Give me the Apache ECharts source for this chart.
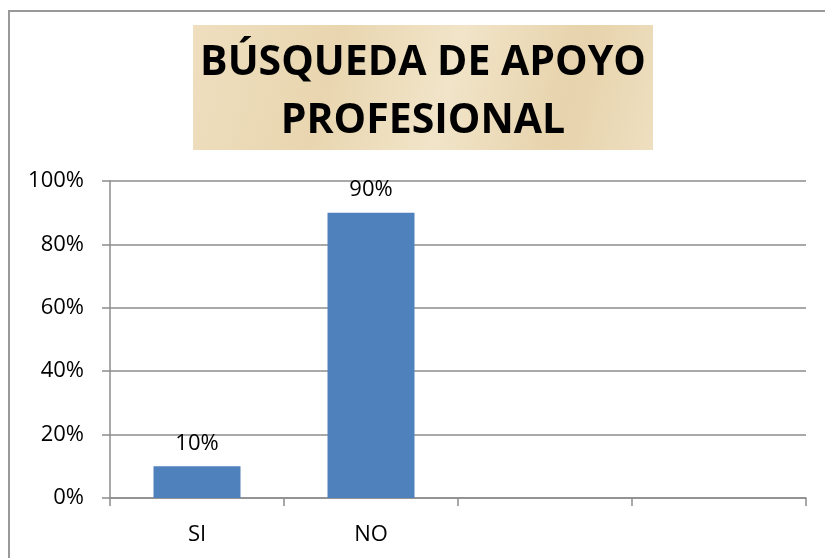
<!DOCTYPE html>
<html>
<head>
<meta charset="utf-8">
<script src="https://cdn.jsdelivr.net/npm/echarts@6/dist/echarts.min.js"></script>
<style>
  html, body { margin: 0; padding: 0; background: #fff; }
  #chart { width: 825px; height: 558px; }
</style>
</head>
<body>
<div id="chart"></div>
<script>
  // data
  var categories = ['SI', 'NO', '', ''];
  var values = [10, 90];
  var yTicks = [0, 20, 40, 60, 80, 100];
  var titleLines = ['BÚSQUEDA DE APOYO', 'PROFESIONAL'];

  var chartDom = document.getElementById('chart');
  var myChart = echarts.init(chartDom);
  var gray = '#8c8c8c';
  var option;

  option = {
    backgroundColor: '#fff',
    animation: false,
    textStyle: { fontFamily: 'Open Sans' },
    grid: {
      left: 110,
      right: 19,
      top: 181,
      bottom: 60
    },
    graphic: [
      {
        // outer frame (only top/left edges are visible)
        type: 'rect',
        shape: { x: 9, y: 11, width: 1000, height: 800 },
        style: { fill: 'none', stroke: '#999', lineWidth: 2 }
      },
      {
        type: 'rect',
        shape: { x: 193, y: 25, width: 460, height: 125 },
        style: {
          fill: new echarts.graphic.LinearGradient(0, 0, 1, 1, [
            { offset: 0, color: '#efdfbf' },
            { offset: 0.3, color: '#e9d6b0' },
            { offset: 0.55, color: '#f1e4c8' },
            { offset: 0.8, color: '#e7d3ac' },
            { offset: 1, color: '#eedfc0' }
          ])
        }
      },
      {
        type: 'text',
        x: 423,
        y: 34,
        style: {
          text: titleLines.join('\n'),
          fill: '#000',
          font: 'bold 41px "Open Sans"',
          lineHeight: 58,
          align: 'center'
        }
      }
    ],
    xAxis: {
      type: 'category',
      data: categories,
      boundaryGap: true,
      axisLine: { lineStyle: { color: gray, width: 1.5 } },
      axisTick: { show: true, length: 8, lineStyle: { color: gray, width: 1.5 } },
      axisLabel: { color: '#000', fontSize: 22, margin: 26, fontFamily: 'Open Sans' }
    },
    yAxis: {
      type: 'value',
      min: yTicks[0],
      max: yTicks[yTicks.length - 1],
      interval: yTicks[1] - yTicks[0],
      axisLine: { show: true, lineStyle: { color: gray, width: 1.5 } },
      axisTick: { show: true, length: 8, lineStyle: { color: gray, width: 1.5 } },
      axisLabel: { color: '#000', fontSize: 22, margin: 26, formatter: '{value}%', fontFamily: 'Open Sans' },
      splitLine: { show: true, lineStyle: { color: gray, width: 1.5 } }
    },
    series: [
      {
        type: 'bar',
        data: values,
        barWidth: '50%',
        itemStyle: { color: '#4f81bd' },
        label: {
          show: true,
          position: 'top',
          distance: 12,
          formatter: '{c}%',
          color: '#000',
          fontSize: 22,
          fontFamily: 'Open Sans'
        }
      }
    ]
  };
  option && myChart.setOption(option);
</script>
</body>
</html>
